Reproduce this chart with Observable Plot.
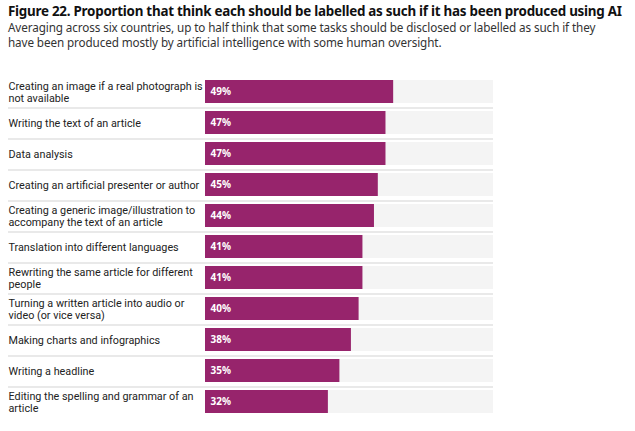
<!DOCTYPE html>
<html>
<head>
<meta charset="utf-8">
<script src="https://cdn.jsdelivr.net/npm/d3@7"></script>
<script src="https://cdn.jsdelivr.net/npm/@observablehq/plot@0.6"></script>
<style>
  html, body { margin: 0; padding: 0; background: #fff; }
  body { width: 635px; height: 431px; overflow: hidden; font-family: "Noto Sans", sans-serif; }
  #head { padding: 3px 0 0 8px; height: 57px; box-sizing: border-box; }
  #title { font-weight: 700; font-size: 13.4px; color: #111; line-height: 17px; letter-spacing: -0.25px; white-space: nowrap; }
  #sub { font-size: 11.7px; color: #333; line-height: 15px; margin-top: 0px; letter-spacing: -0.1px; white-space: nowrap; }
  svg { display: block; }
</style>
</head>
<body>
<div id="head">
  <div id="title">Figure 22. Proportion that think each should be labelled as such if it has been produced using AI</div>
  <div id="sub">Averaging across six countries, up to half think that some tasks should be disclosed or labelled as such if they<br>have been produced mostly by artificial intelligence with some human oversight.</div>
</div>
<div id="chart"></div>
<script>
const categories = [
  "Creating an image if a real photograph is\nnot available",
  "Writing the text of an article",
  "Data analysis",
  "Creating an artificial presenter or author",
  "Creating a generic image/illustration to\naccompany the text of an article",
  "Translation into different languages",
  "Rewriting the same article for different\npeople",
  "Turning a written article into audio or\nvideo (or vice versa)",
  "Making charts and infographics",
  "Writing a headline",
  "Editing the spelling and grammar of an\narticle"
];
const values = [49, 47, 47, 45, 44, 41, 41, 40, 38, 35, 32];
const scaleMax = 75;

const data = categories.map((c, i) => ({ task: c, value: values[i] }));
const separators = categories.slice(0, -1);

const pitch = (431 - 60 - 13 - 5) / categories.length;

const chart = Plot.plot({
  width: 635,
  height: 371,
  marginTop: 13,
  marginBottom: 5,
  marginLeft: 205,
  marginRight: 142,
  x: { domain: [0, scaleMax], axis: null },
  y: { domain: categories, axis: null, padding: 0.27 },
  style: { fontFamily: "Noto Sans, sans-serif" },
  marks: [
    Plot.ruleY(separators, { y: d => d, dy: pitch / 2, stroke: "#e9e9e9", strokeWidth: 2, insetLeft: -197 }),
    Plot.barX(data, { y: "task", x1: 0, x2: scaleMax, fill: "#f4f4f4" }),
    Plot.barX(data, { y: "task", x: "value", fill: "#97246c" }),
    Plot.text(data, { y: "task", frameAnchor: "left", dx: -197, text: "task", textAnchor: "start", fontSize: 10.8, fontFamily: "Roboto, sans-serif", fill: "#222", lineHeight: 1.15 }),
    Plot.text(data, { y: "task", frameAnchor: "left", dx: 5, text: d => d.value + "%", textAnchor: "start", fontSize: 10, fontWeight: 700, fill: "#fff" })
  ]
});
document.getElementById("chart").appendChild(chart);
</script>
</body>
</html>
